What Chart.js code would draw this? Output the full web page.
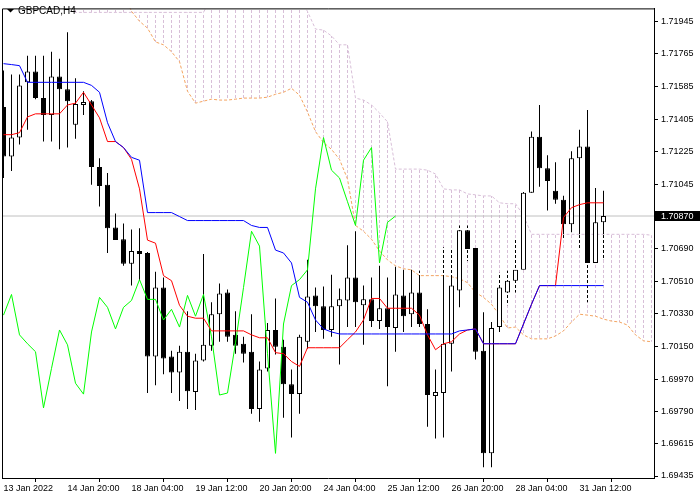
<!DOCTYPE html>
<html>
<head>
<meta charset="utf-8">
<script src="https://cdn.jsdelivr.net/npm/chart.js@4.4.1/dist/chart.umd.min.js"></script>
<style>
  html, body { margin: 0; padding: 0; background: #fff; }
  canvas { display: block; }
</style>
</head>
<body>
<canvas id="chart-gbpcad" width="700" height="500"></canvas>
<script>
const symbolTitle = 'GBPCAD,H4';

// H4 candles, bar 0 = 13 Jan 2022 00:00
const opens = [1.71472, 1.71199, 1.71303, 1.71608, 1.71668, 1.71521, 1.71428, 1.71640, 1.71570, 1.71374,
  1.71483, 1.71504, 1.71140, 1.71042, 1.70807, 1.70742, 1.70606, 1.70677, 1.70666, 1.70094,
  1.70475, 1.70094, 1.70007, 1.70121, 1.69898, 1.70072, 1.70154, 1.70328, 1.70448, 1.70214,
  1.70165, 1.70121, 1.69805, 1.70029, 1.70241, 1.70149, 1.69942, 1.69887, 1.70176, 1.70432,
  1.70372, 1.70241, 1.70372, 1.70404, 1.70530, 1.70377, 1.70410, 1.70290, 1.70361, 1.70252,
  1.70432, 1.70328, 1.70448, 1.70274, 1.69876, 1.69893, 1.70165, 1.70459, 1.70791, 1.70693,
  1.70127, 1.69560, 1.70257, 1.70448, 1.70513, 1.70573, 1.70998, 1.71308, 1.71134, 1.71009,
  1.70960, 1.70824, 1.71189, 1.71254, 1.70611, 1.70835];
const highs = [1.71673, 1.71651, 1.71651, 1.71755, 1.71755, 1.71755, 1.71777, 1.71738, 1.71885, 1.71630,
  1.71559, 1.71510, 1.71189, 1.71107, 1.70884, 1.70829, 1.70796, 1.70802, 1.70671, 1.70562,
  1.70530, 1.70127, 1.70154, 1.70345, 1.70110, 1.70660, 1.70394, 1.70497, 1.70464, 1.70345,
  1.70203, 1.70328, 1.70067, 1.70279, 1.70415, 1.70187, 1.70023, 1.70214, 1.70628, 1.70475,
  1.70481, 1.70546, 1.70470, 1.70709, 1.70786, 1.70486, 1.70530, 1.70595, 1.70530, 1.70590,
  1.70573, 1.70573, 1.70568, 1.70355, 1.70023, 1.70698, 1.70693, 1.70818, 1.70818, 1.70693,
  1.70339, 1.70285, 1.70557, 1.70568, 1.70737, 1.71003, 1.71336, 1.71483, 1.71205, 1.71167,
  1.70982, 1.71227, 1.71346, 1.71455, 1.71025, 1.71009];
const lows = [1.71080, 1.71118, 1.71265, 1.71346, 1.71515, 1.71281, 1.71281, 1.71238, 1.71248, 1.71297,
  1.71428, 1.71042, 1.70922, 1.70666, 1.70737, 1.70595, 1.70486, 1.70513, 1.69893, 1.69936,
  1.69996, 1.69893, 1.69849, 1.69805, 1.69800, 1.70067, 1.70127, 1.70176, 1.70176, 1.70110,
  1.70061, 1.69778, 1.69735, 1.70012, 1.70105, 1.69756, 1.69648, 1.69778, 1.70138, 1.70230,
  1.70192, 1.70203, 1.70051, 1.70257, 1.70257, 1.70159, 1.70257, 1.70247, 1.69931, 1.70121,
  1.70230, 1.70257, 1.70257, 1.69707, 1.69642, 1.69648, 1.70012, 1.70366, 1.70622, 1.70078,
  1.69484, 1.69484, 1.70230, 1.70377, 1.70448, 1.70573, 1.70998, 1.71031, 1.70900, 1.70938,
  1.70737, 1.70780, 1.70688, 1.70394, 1.70600, 1.70628];
const closes = [1.71199, 1.71303, 1.71591, 1.71668, 1.71521, 1.71428, 1.71640, 1.71570, 1.71504, 1.71488,
  1.71499, 1.71140, 1.71036, 1.70802, 1.70737, 1.70606, 1.70677, 1.70660, 1.70094, 1.70475,
  1.70083, 1.70007, 1.70121, 1.69903, 1.70072, 1.70159, 1.70328, 1.70443, 1.70203, 1.70154,
  1.70110, 1.69805, 1.70023, 1.70241, 1.70149, 1.69942, 1.69887, 1.70203, 1.70426, 1.70372,
  1.70241, 1.70372, 1.70410, 1.70530, 1.70394, 1.70410, 1.70290, 1.70361, 1.70257, 1.70437,
  1.70317, 1.70448, 1.70274, 1.69882, 1.69898, 1.70165, 1.70486, 1.70791, 1.70688, 1.70121,
  1.69560, 1.70252, 1.70475, 1.70513, 1.70573, 1.70998, 1.71308, 1.71134, 1.71063, 1.70960,
  1.70824, 1.71189, 1.71254, 1.70611, 1.70835, 1.70870];

// Ichimoku lines
const tenkan = [1.71319, 1.71319, 1.71330, 1.71417, 1.71434, 1.71434, 1.71434, 1.71434, 1.71483, 1.71493,
  1.71553, 1.71483, 1.71412, 1.71281, 1.71281, 1.71248, 1.71183, 1.71020, 1.70737, 1.70720,
  1.70541, 1.70513, 1.70377, 1.70317, 1.70306, 1.70306, 1.70236, 1.70236, 1.70236, 1.70236,
  1.70236, 1.70214, 1.70198, 1.70198, 1.70116, 1.70110, 1.70067, 1.70040, 1.70143, 1.70143,
  1.70143, 1.70143, 1.70143, 1.70187, 1.70230, 1.70296, 1.70415, 1.70415, 1.70361, 1.70361,
  1.70361, 1.70361, 1.70323, 1.70214, 1.70132, 1.70165, 1.70176, 1.70219, 1.70241, 1.70247,
  1.70165, 1.70165, 1.70165, 1.70165, 1.70165, 1.70274, 1.70383, 1.70486, 1.70486, 1.70486,
  1.70862, 1.70916, 1.70933, 1.70943, 1.70943, 1.70943];
const kijun = [1.71711, 1.71706, 1.71700, 1.71608, 1.71608, 1.71608, 1.71608, 1.71608, 1.71608, 1.71608,
  1.71608, 1.71591, 1.71553, 1.71385, 1.71281, 1.71248, 1.71194, 1.71178, 1.70889, 1.70889,
  1.70889, 1.70889, 1.70867, 1.70845, 1.70845, 1.70845, 1.70845, 1.70845, 1.70845, 1.70845,
  1.70845, 1.70818, 1.70807, 1.70807, 1.70682, 1.70666, 1.70611, 1.70421, 1.70394, 1.70296,
  1.70247, 1.70230, 1.70219, 1.70219, 1.70219, 1.70219, 1.70219, 1.70219, 1.70219, 1.70219,
  1.70219, 1.70219, 1.70219, 1.70219, 1.70219, 1.70219, 1.70219, 1.70236, 1.70241, 1.70247,
  1.70165, 1.70165, 1.70165, 1.70165, 1.70165, 1.70274, 1.70383, 1.70486, 1.70486, 1.70486,
  1.70486, 1.70486, 1.70486, 1.70486, 1.70486, 1.70486];
const chikou = [1.70323, 1.70437, 1.70214, 1.70165, 1.70121, 1.69811, 1.70029, 1.70241, 1.70159, 1.69947,
  1.69887, 1.70230, 1.70421, 1.70366, 1.70247, 1.70366, 1.70404, 1.70519, 1.70410, 1.70410,
  1.70296, 1.70355, 1.70257, 1.70432, 1.70317, 1.70437, 1.70203, 1.69882, 1.69893, 1.70170,
  1.70475, 1.70786, 1.70704, 1.70110, 1.69560, 1.70274, 1.70486, 1.70519, 1.70573, 1.71020,
  1.71303, 1.71123, 1.71080, 1.70949, 1.70818, 1.71178, 1.71248, 1.70611, 1.70835, 1.70870];
const spanA = [1.72100, 1.72100, 1.72100, 1.72100, 1.72100, 1.72100, 1.72100, 1.72100, 1.72100, 1.72100,
  1.72100, 1.72100, 1.72100, 1.72100, 1.72100, 1.72100, 1.72000, 1.71945, 1.71907, 1.71831,
  1.71815, 1.71777, 1.71722, 1.71559, 1.71493, 1.71504, 1.71515, 1.71510, 1.71510, 1.71515,
  1.71521, 1.71521, 1.71521, 1.71526, 1.71542, 1.71553, 1.71575, 1.71537, 1.71444, 1.71336,
  1.71276, 1.71238, 1.71183, 1.71074, 1.70818, 1.70786, 1.70742, 1.70677, 1.70628, 1.70595,
  1.70579, 1.70573, 1.70541, 1.70541, 1.70541, 1.70541, 1.70535, 1.70524, 1.70502, 1.70448,
  1.70421, 1.70383, 1.70323, 1.70252, 1.70257, 1.70214, 1.70192, 1.70192, 1.70192, 1.70208,
  1.70236, 1.70285, 1.70328, 1.70323, 1.70317, 1.70301, 1.70290, 1.70285, 1.70268, 1.70214,
  1.70181, 1.70176];
const spanB = [1.72140, 1.72140, 1.72140, 1.72140, 1.72140, 1.72140, 1.72140, 1.72140, 1.72140, 1.71994,
  1.71994, 1.71994, 1.71994, 1.71994, 1.71994, 1.71994, 1.71994, 1.71994, 1.71994, 1.71994,
  1.71994, 1.71994, 1.71994, 1.71994, 1.71994, 1.71994, 1.72080, 1.72080, 1.72080, 1.72080,
  1.72080, 1.72080, 1.72080, 1.72080, 1.72080, 1.72080, 1.72080, 1.72080, 1.71999, 1.71902,
  1.71896, 1.71864, 1.71815, 1.71815, 1.71521, 1.71510, 1.71483, 1.71439, 1.71390, 1.71129,
  1.71129, 1.71129, 1.71129, 1.71123, 1.71102, 1.71020, 1.71014, 1.71014, 1.70992, 1.70987,
  1.70981, 1.70981, 1.70943, 1.70938, 1.70938, 1.70873, 1.70769, 1.70769, 1.70769, 1.70769,
  1.70769, 1.70769, 1.70769, 1.70769, 1.70769, 1.70769, 1.70769, 1.70769, 1.70769, 1.70769,
  1.70769, 1.70764];

const xTickBars = [0, 8, 16, 24, 32, 40, 48, 56, 64, 72];
const xTickLabels = ['13 Jan 2022', '14 Jan 20:00', '18 Jan 04:00', '19 Jan 12:00', '20 Jan 20:00',
  '24 Jan 04:00', '25 Jan 12:00', '26 Jan 20:00', '28 Jan 04:00', '31 Jan 12:00'];
const yTickValues = [1.71945, 1.71765, 1.71585, 1.71405, 1.71225, 1.71045, 1.70690, 1.70510,
  1.70330, 1.70150, 1.69970, 1.69790, 1.69615, 1.69435];
const lastPrice = closes[closes.length - 1];

const canvas = document.getElementById('chart-gbpcad');
const g = canvas.getContext('2d');

// 1px wide vertical dash pattern, like the MT4 dotted histogram
function dashFill(color, on, off, shift) {
  const c = document.createElement('canvas');
  c.width = 1; c.height = on + off;
  const p = c.getContext('2d');
  p.fillStyle = color;
  p.fillRect(0, shift, 1, on);
  return g.createPattern(c, 'repeat');
}
const hatchFill = dashFill('#D8BFD8', 3, 2, 0);
const gapFill = dashFill('#FFFFFF', 2, 3, 3);

const pts = arr => arr.map((v, i) => ({ x: i, y: v }));

const cloudBars = spanA.map((a, i) => ({ x: i, y: [a, spanB[i]] }));
const wickBars = highs.map((h, i) => ({ x: i, y: [lows[i], h] }));
const bodyBars = opens.map((o, i) => ({ x: i, y: [o, closes[i]] }));
// part of each wick that sits inside the cloud is drawn dotted
const wickGaps = [];
highs.forEach((h, i) => {
  const lo = Math.max(lows[i], Math.min(spanA[i], spanB[i]));
  const hi = Math.min(h, Math.max(spanA[i], spanB[i]));
  if (hi > lo) wickGaps.push({ x: i, y: [lo, hi] });
});

const barBase = { type: 'bar', grouped: false, inflateAmount: 0, borderSkipped: false, clip: 0 };
const lineBase = { type: 'line', borderWidth: 1, pointRadius: 0, tension: 0, fill: false, clip: 0 };

const framePlugin = {
  id: 'frame',
  afterDraw(chart) {
    const c = chart.ctx, a = chart.chartArea;
    c.save();
    c.strokeStyle = '#000';
    c.lineWidth = 1;
    c.beginPath();
    c.moveTo(a.left + 0.5, a.bottom);
    c.lineTo(a.left + 0.5, a.top + 0.5);
    c.lineTo(a.right, a.top + 0.5);
    c.stroke();
    // symbol caption
    c.fillStyle = '#000';
    c.beginPath();
    c.moveTo(7, 9); c.lineTo(14, 9); c.lineTo(10.5, 12.5); c.closePath();
    c.fill();
    c.font = '10px "Liberation Sans"';
    c.textBaseline = 'alphabetic';
    c.fillText(symbolTitle, 18, 14);
    // current price marker on the axis
    const y = Math.round(chart.scales.y.getPixelForValue(lastPrice));
    c.fillRect(a.right + 1, y - 5, 700 - a.right - 1, 10);
    c.fillStyle = '#fff';
    c.font = '9px "Liberation Sans"';
    c.textBaseline = 'middle';
    c.fillText(lastPrice.toFixed(5), a.right + 7, y + 0.5);
    c.restore();
  }
};

new Chart(canvas, {
  type: 'bar',
  data: {
    datasets: [
      { ...barBase, label: 'cloud', data: cloudBars, barThickness: 1, backgroundColor: hatchFill, borderWidth: 0, order: 10 },
      { ...lineBase, label: 'price', data: [{ x: -0.1875, y: lastPrice }, { x: 81.3125, y: lastPrice }], borderColor: '#C0C0C0', order: 9 },
      { ...lineBase, label: 'Senkou B', data: pts(spanB), borderColor: '#D8BFD8', borderDash: [3, 2], order: 8 },
      { ...lineBase, label: 'Senkou A', data: pts(spanA), borderColor: '#F4A460', borderDash: [3, 2], order: 7 },
      { ...barBase, label: 'wicks', data: wickBars, barThickness: 1, backgroundColor: '#000', borderWidth: 0, order: 6 },
      { ...barBase, label: 'wick gaps', data: wickGaps, barThickness: 1, backgroundColor: gapFill, borderWidth: 0, order: 5 },
      { ...barBase, label: 'bodies', data: bodyBars, barThickness: 5, borderWidth: 1, borderColor: '#000',
        backgroundColor: c => (closes[c.dataIndex] >= opens[c.dataIndex] ? '#FFFFFF' : '#000000'), order: 4 },
      { ...lineBase, label: 'Chikou', data: pts(chikou), borderColor: '#00FF00', order: 3 },
      { ...lineBase, label: 'Tenkan', data: pts(tenkan), borderColor: '#FF0000', order: 2 },
      { ...lineBase, label: 'Kijun', data: pts(kijun), borderColor: '#0000FF', order: 1 }
    ]
  },
  options: {
    responsive: false,
    animation: false,
    devicePixelRatio: 1,
    layout: { padding: { left: 2, top: 2, right: 0, bottom: 0 } },
    plugins: { legend: { display: false }, tooltip: { enabled: false }, title: { display: false } },
    scales: {
      x: {
        type: 'linear', min: -0.1875, max: 81.3125, offset: false,
        afterBuildTicks: s => { s.ticks = xTickBars.map(v => ({ value: v })); },
        afterFit: s => { s.height = 22; },
        grid: { drawOnChartArea: false, color: '#000', tickLength: 4 },
        border: { color: '#000' },
        ticks: {
          autoSkip: false, maxRotation: 0, align: 'start', padding: 1, color: '#000',
          font: { family: 'Liberation Sans', size: 9 },
          callback: v => xTickLabels[xTickBars.indexOf(v)]
        }
      },
      y: {
        type: 'linear', position: 'right', min: 1.69424, max: 1.72016,
        afterBuildTicks: s => { s.ticks = yTickValues.map(v => ({ value: v })); },
        afterFit: s => { s.width = 46; },
        grid: { drawOnChartArea: false, color: '#000', tickLength: 4 },
        border: { color: '#000' },
        ticks: {
          autoSkip: false, padding: 3, color: '#000',
          font: { family: 'Liberation Sans', size: 9 },
          callback: v => v.toFixed(5)
        }
      }
    }
  },
  plugins: [framePlugin]
});
</script>
</body>
</html>
